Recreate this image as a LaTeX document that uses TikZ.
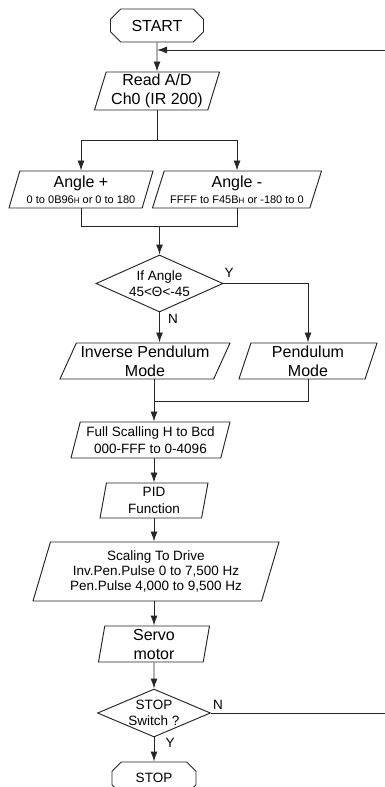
\documentclass[tikz,border=0pt]{standalone}
\usepackage{fontspec}
\setmainfont{Liberation Sans}
\usetikzlibrary{shapes, arrows.meta}
\newcommand\fsbig{\fontsize{16}{19}\selectfont}
\newcommand\fsmid{\fontsize{13.5}{16.5}\selectfont}
\newcommand\fstight{\fontsize{13.5}{14.8}\selectfont}
\newcommand\fssmall{\fontsize{11}{13}\selectfont}
\newcommand\hsub{{\fontsize{8}{8}\selectfont H}}
\tikzstyle{term}   = [chamfered rectangle, chamfered rectangle xsep=8pt, draw, inner sep=1pt]
\tikzstyle{io}     = [trapezium, trapezium stretches body, draw, align=center, inner sep=1pt]
\tikzstyle{choice} = [diamond, draw, align=center, inner sep=-4pt]
\tikzstyle{lbl}    = [inner sep=0pt, font=\fsmid]
\tikzstyle{single} = [draw, -{Latex[length=10pt, width=7pt]}]

\begin{document}
\begin{tikzpicture}[x=1pt, y=-1pt, line width=0.95pt, draw=black!85]
    \useasboundingbox (0,0) rectangle (385,787);
    \clip (0,0) rectangle (385,787);
    % top of the loop
    \node[term, font=\fsbig, minimum width=93pt, minimum height=33pt](start) at (157,25.5){START};
    \node[io, font=\fsbig, trapezium left angle=72, trapezium right angle=108,
          minimum width=125pt, minimum height=38pt](read) at (157,91){Read A/D\\Ch0 (IR 200)};
    \node[io, font=\fsbig, trapezium left angle=70, trapezium right angle=110,
          minimum width=144pt, minimum height=37pt](angp) at (81,189.5)
          {Angle +\\[-3pt]{\fssmall 0 to 0B96\hsub{} or 0 to 180}};
    \node[io, font=\fsbig, trapezium left angle=68.5, trapezium right angle=111.5,
          minimum width=169pt, minimum height=37pt](angm) at (237,189.5)
          {Angle -\\[-3pt]{\fssmall FFFF to F45B\hsub{} or -180 to 0}};
    \node[choice, font=\fsmid, aspect=2.23, minimum width=127pt, minimum height=57pt](ifangle) at (159.5,283.5)
          {If Angle\\45<Θ<-45};
    \node[io, font=\fsbig, trapezium left angle=63.5, trapezium right angle=116.5,
          minimum width=170pt, minimum height=36pt](invmode) at (145,361){Inverse Pendulum\\Mode};
    \node[io, font=\fsbig, trapezium left angle=70, trapezium right angle=110,
          minimum width=138pt, minimum height=36pt](penmode) at (308,361){Pendulum\\Mode};
    % scaling and drive
    \node[io, font=\fsmid, trapezium left angle=72, trapezium right angle=108,
          minimum width=159pt, minimum height=36pt](fullscal) at (150.5,440)
          {Full Scalling H to Bcd\\000-FFF to 0-4096};
    \node[io, font=\fsmid, trapezium left angle=77, trapezium right angle=103,
          minimum width=108pt, minimum height=35pt](pid) at (154,500.5){PID\\Function};
    \node[io, font=\fstight, trapezium left angle=68, trapezium right angle=112,
          minimum width=246pt, minimum height=59pt](drive) at (156,571.5)
          {Scaling To Drive\\Inv.Pen.Pulse 0 to 7,500 Hz\\Pen.Pulse 4,000 to 9,500 Hz};
    \node[io, font=\fsbig, trapezium left angle=79, trapezium right angle=101,
          minimum width=111pt, minimum height=36pt](servo) at (154,644){Servo\\motor};
    \node[choice, font=\fsmid, aspect=2.35, minimum width=113pt, minimum height=48pt](stopsw) at (154,713)
          {STOP\\Switch ?};
    \node[term, font=\fsmid, minimum width=84pt, minimum height=32pt](stop) at (154,778){STOP};
    % branch labels
    \node[lbl](ylbl) at (229,273){Y};
    \node[lbl](nlbl) at (173,319){N};
    \node[lbl](nlbl2) at (218,705){N};
    \node[lbl](ylbl2) at (170,743){Y};
    % connectors
    \coordinate (loopin) at (385,50);
    \coordinate (loopout) at (385,713);
    \coordinate (split) at (157,140);
    \coordinate (join1) at (159.5,226);
    \coordinate (join2) at (154,401);
    \path[single](start) -- (start |- read.north);
    \path[single](loopin) -- (loopin -| start);
    \draw (read) -- (split);
    \path[single](split) -| (angp);
    \path[single](split) -| (angm);
    \draw (angp) |- (join1);
    \draw (angm) |- (join1);
    \path[single](join1) -- (ifangle);
    \path[single](ifangle.south) -- (ifangle.south |- invmode.north);
    \path[single](ifangle.east) -| (penmode);
    \draw (invmode.south -| join2) -- (join2);
    \draw (penmode) |- (join2);
    \path[single](join2) -- (join2 |- fullscal.north);
    \path[single](fullscal.south -| pid.north) -- (pid.north);
    \path[single](pid.south) -- (pid.south |- drive.north);
    \path[single](drive.south -| servo.north) -- (servo.north);
    \path[single](servo) -- (stopsw);
    \path[single](stopsw) -- (stop);
    \draw (stopsw.east) -- (loopout);
\end{tikzpicture}
\end{document}
